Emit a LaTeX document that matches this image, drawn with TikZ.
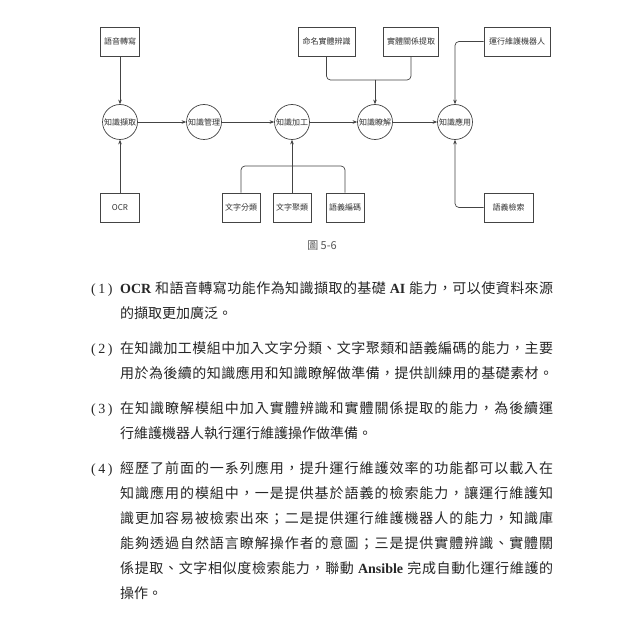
\documentclass[tikz,border=0pt]{standalone}
\usepackage{fontspec}
\setmainfont{Liberation Serif}
\newfontfamily\cjk{Noto Sans CJK TC}
\usetikzlibrary{arrows.meta}
\XeTeXinterchartokenstate=1
\makeatletter
\count@="3000
\loop
  \XeTeXcharclass\count@=1
  \advance\count@ 1
\ifnum\count@<"A000 \repeat
\count@="FF00
\loop
  \XeTeXcharclass\count@=1
  \advance\count@ 1
\ifnum\count@<"FF60 \repeat
\makeatother
\XeTeXinterchartoks 1 1 = {\hskip 0pt plus 1pt\relax}
\newcommand\lb[1]{{\rmfamily\bfseries #1}}
\definecolor{linec}{HTML}{444444}
\definecolor{labc}{HTML}{333333}
\definecolor{bodyc}{HTML}{262626}
\definecolor{capc}{HTML}{555555}
\tikzset{
  box/.style={draw=linec, line width=0.7pt, fill=white, minimum height=29pt, inner sep=0pt,
    font={\cjk\fontsize{8}{10}\selectfont}, text=labc},
  circ/.style={circle, draw=linec, line width=0.7pt, fill=white, minimum size=35pt, inner sep=0pt,
    font={\cjk\fontsize{8}{10}\selectfont}, text=labc},
  conn/.style={draw=linec, line width=0.7pt, rounded corners=4pt},
  arr/.style={conn, -{Stealth[length=4.5pt,width=3.6pt]}},
  bodyline/.style={anchor=base west, inner sep=0pt, font={\cjk\fontsize{14}{16}\selectfont}, text=bodyc},
  numlab/.style={anchor=base west, inner sep=0pt, font={\rmfamily\fontsize{14}{16}\selectfont}, text=bodyc},
}
\begin{document}
\begin{tikzpicture}[x=1pt, y=-1pt]
\fill[white] (0,0) rectangle (620,620);
\useasboundingbox (0,0) rectangle (620,620);
% circles
\node[circ] (k1) at (120,122) {知識擷取};
\node[circ] (k2) at (204,122) {知識管理};
\node[circ] (k3) at (292,122) {知識加工};
\node[circ] (k4) at (375,122) {知識瞭解};
\node[circ] (k5) at (455,122) {知識應用};
% boxes
\node[box, minimum width=39pt] (yy) at (120,41.5) {語音轉寫};
\node[box, minimum width=39pt] (ocr) at (120,207.5) {OCR};
\node[box, minimum width=57pt] (ner) at (326.5,41.5) {命名實體辨識};
\node[box, minimum width=55pt] (rel) at (411,41.5) {實體關係提取};
\node[box, minimum width=66pt] (robot) at (517,41.5) {運行維護機器人};
\node[box, minimum width=38pt] (c1) at (241,207.5) {文字分類};
\node[box, minimum width=38pt] (c2) at (292,207.5) {文字聚類};
\node[box, minimum width=38pt] (c3) at (345,207.5) {語義編碼};
\node[box, minimum width=49pt] (ss) at (508.5,207.5) {語義檢索};
\coordinate (j1) at (375,80);
\coordinate (j2) at (292,166);
% connectors
\draw[arr] (k1) -- (k2);
\draw[arr] (k2) -- (k3);
\draw[arr] (k3) -- (k4);
\draw[arr] (k4) -- (k5);
\draw[arr] (yy) -- (k1);
\draw[arr] (ocr) -- (k1);
\draw[conn] (ner.south) |- (j1);
\draw[conn] (rel.south) |- (j1);
\draw[arr] (j1) -- (k4);
\draw[conn] (c1.north) |- (j2);
\draw[conn] (c3.north) |- (j2);
\draw[arr] (c2) -- (k3);
\draw[arr] (robot.west) -| (k5);
\draw[arr] (ss.west) -| (k5);
% caption
\node[font={\cjk\fontsize{11}{13}\selectfont}, text=capc] (cap) at (322,246) {圖 5-6};
% body text
\node[numlab] (n1) at (91,293) {(\hspace{2.5pt}1\hspace{2.5pt})};
\node[bodyline] (p1a) at (120,293) {\makebox[433pt][s]{\lb{OCR} 和語音轉寫功能作為知識擷取的基礎 \lb{AI} 能力，可以使資料來源}};
\node[bodyline] (p1b) at (120,318) {的擷取更加廣泛。};
\node[numlab] (n2) at (91,353) {(\hspace{2.5pt}2\hspace{2.5pt})};
\node[bodyline] (p2a) at (120,353) {\makebox[433pt][s]{在知識加工模組中加入文字分類、文字聚類和語義編碼的能力，主要}};
\node[bodyline] (p2b) at (120,378) {\makebox[433pt][s]{用於為後續的知識應用和知識瞭解做準備，提供訓練用的基礎素材。}};
\node[numlab] (n3) at (91,413) {(\hspace{2.5pt}3\hspace{2.5pt})};
\node[bodyline] (p3a) at (120,413) {\makebox[433pt][s]{在知識瞭解模組中加入實體辨識和實體關係提取的能力，為後續運}};
\node[bodyline] (p3b) at (120,438) {行維護機器人執行運行維護操作做準備。};
\node[numlab] (n4) at (91,473) {(\hspace{2.5pt}4\hspace{2.5pt})};
\node[bodyline] (p4a) at (120,473) {\makebox[433pt][s]{經歷了前面的一系列應用，提升運行維護效率的功能都可以載入在}};
\node[bodyline] (p4b) at (120,498) {\makebox[433pt][s]{知識應用的模組中，一是提供基於語義的檢索能力，讓運行維護知}};
\node[bodyline] (p4c) at (120,523) {\makebox[433pt][s]{識更加容易被檢索出來；二是提供運行維護機器人的能力，知識庫}};
\node[bodyline] (p4d) at (120,548) {\makebox[433pt][s]{能夠透過自然語言瞭解操作者的意圖；三是提供實體辨識、實體關}};
\node[bodyline] (p4e) at (120,573) {\makebox[433pt][s]{係提取、文字相似度檢索能力，聯動 \lb{Ansible} 完成自動化運行維護的}};
\node[bodyline] (p4f) at (120,598) {操作。};
\end{tikzpicture}
\end{document}
